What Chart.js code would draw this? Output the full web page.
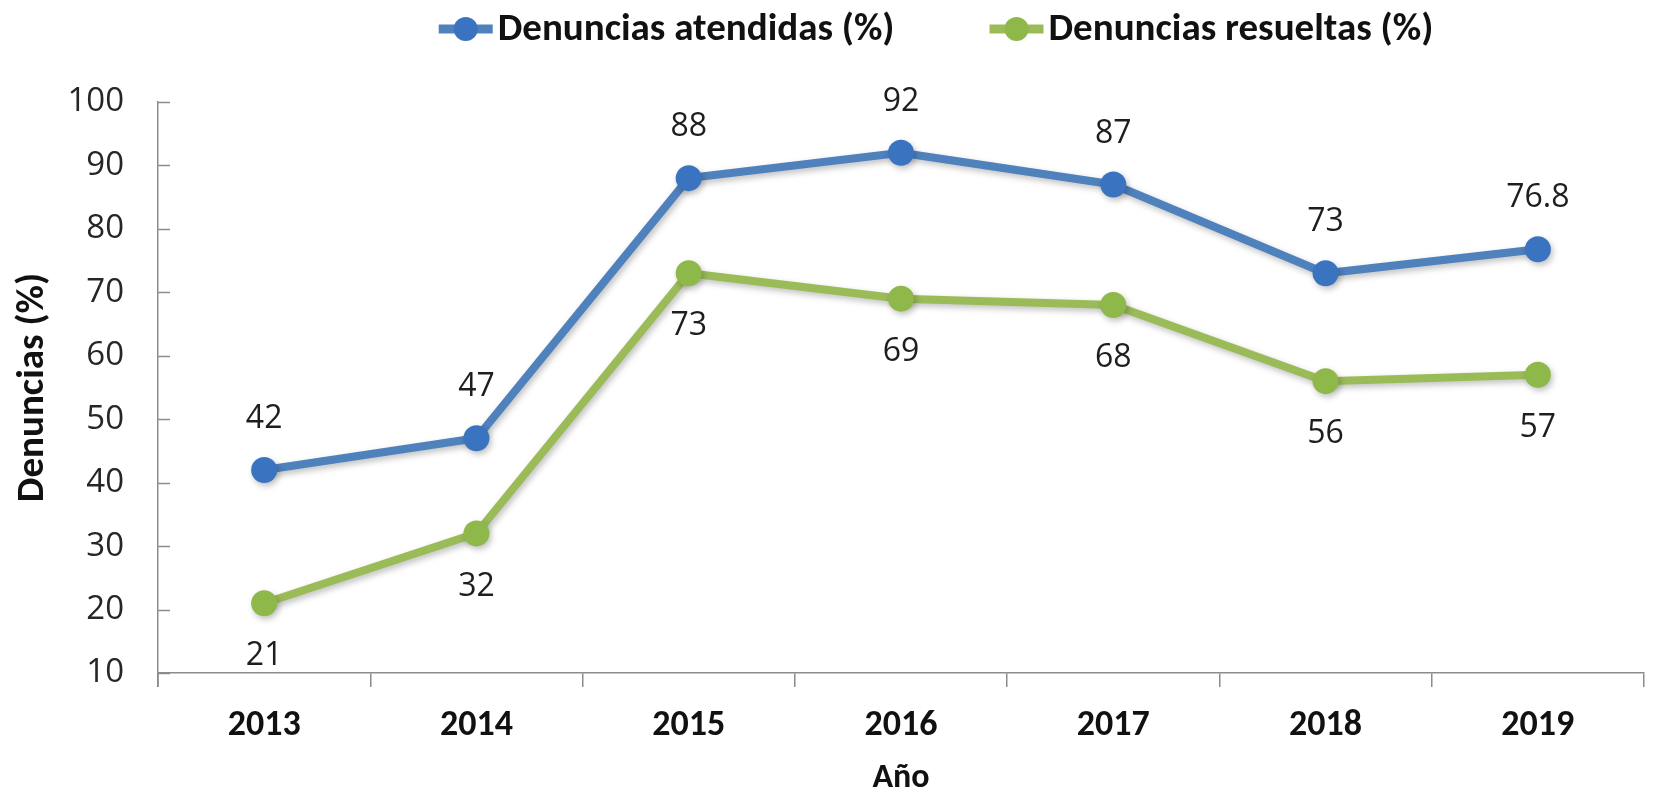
<!DOCTYPE html>
<html>
<head>
<meta charset="utf-8">
<script src="https://cdn.jsdelivr.net/npm/chart.js@4"></script>
<style>
  html, body { margin: 0; padding: 0; background: #fff; }
  #wrap { width: 1657px; height: 795px; }
</style>
</head>
<body>
<div id="wrap"><canvas id="chart" width="1657" height="795"></canvas></div>
<script>
// datos
var years = ["2013", "2014", "2015", "2016", "2017", "2018", "2019"];
var atendidas = [42, 47, 88, 92, 87, 73, 76.8];
var resueltas = [21, 32, 73, 69, 68, 56, 57];
var seriesNames = ["Denuncias atendidas (%)", "Denuncias resueltas (%)"];
var yTicks = [10, 20, 30, 40, 50, 60, 70, 80, 90, 100];

var lineColors = ["#4f81bd", "#9bbb59"];
var markerColors = ["#3a74c0", "#8fb84a"];

var narrow = "Carlito, Lato, sans-serif";
var round = "'Open Sans', 'DejaVu Sans', sans-serif";

// leyenda dibujada a mano (linea + circulo como en Excel)
var excelLegend = {
  id: "excelLegend",
  afterDraw: function(chart) {
    var ctx = chart.ctx;
    var cy = 29;
    var iconW = 54, textGap = 5, itemGap = 95;
    ctx.save();
    ctx.font = "bold 39px " + narrow;
    ctx.textBaseline = "middle";
    var widths = seriesNames.map(function(t) { return ctx.measureText(t).width; });
    var total = 0;
    widths.forEach(function(w, i) { total += iconW + textGap + w + (i > 0 ? itemGap : 0); });
    var x = 936 - total / 2;
    seriesNames.forEach(function(t, i) {
      ctx.strokeStyle = lineColors[i];
      ctx.lineWidth = 9;
      ctx.beginPath();
      ctx.moveTo(x, cy);
      ctx.lineTo(x + iconW, cy);
      ctx.stroke();
      ctx.fillStyle = markerColors[i];
      ctx.beginPath();
      ctx.arc(x + iconW / 2, cy, 12, 0, Math.PI * 2);
      ctx.fill();
      ctx.fillStyle = "#111";
      ctx.textAlign = "left";
      ctx.fillText(t, x + iconW + textGap, cy + 1);
      x += iconW + textGap + widths[i] + itemGap;
    });
    ctx.restore();
  }
};

// sombra suave bajo las lineas
var softShadow = {
  id: "softShadow",
  beforeDatasetDraw: function(chart) {
    var ctx = chart.ctx;
    ctx.save();
    ctx.shadowColor = "rgba(0,0,0,0.25)";
    ctx.shadowBlur = 6;
    ctx.shadowOffsetX = 2;
    ctx.shadowOffsetY = 3;
  },
  afterDatasetDraw: function(chart) {
    chart.ctx.restore();
  }
};

// etiquetas de datos (arriba para atendidas, abajo para resueltas)
var valueLabels = {
  id: "valueLabels",
  afterDatasetsDraw: function(chart) {
    var ctx = chart.ctx;
    ctx.save();
    ctx.font = "32px " + round;
    ctx.fillStyle = "#1e1e1e";
    ctx.textAlign = "center";
    ctx.textBaseline = "middle";
    chart.data.datasets.forEach(function(ds, i) {
      var meta = chart.getDatasetMeta(i);
      meta.data.forEach(function(pt, j) {
        var dy = i === 0 ? -51 : 53;
        ctx.fillText(String(ds.data[j]), pt.x, pt.y + dy);
      });
    });
    ctx.restore();
  }
};

// marcas interiores del eje y
var innerTicks = {
  id: "innerTicks",
  beforeDatasetsDraw: function(chart) {
    var y = chart.scales.y;
    var ctx = chart.ctx;
    ctx.save();
    ctx.strokeStyle = "#8c8c8c";
    ctx.lineWidth = 1.5;
    yTicks.forEach(function(v) {
      var py = Math.round(y.getPixelForValue(v)) + 0.5;
      ctx.beginPath();
      ctx.moveTo(y.right, py);
      ctx.lineTo(y.right + 12, py);
      ctx.stroke();
    });
    ctx.beginPath();
    ctx.moveTo(y.right, y.bottom);
    ctx.lineTo(y.right, y.bottom + 14);
    ctx.stroke();
    ctx.restore();
  }
};

new Chart(document.getElementById("chart"), {
  type: "line",
  data: {
    labels: years,
    datasets: [
      {
        label: seriesNames[0],
        data: atendidas,
        borderColor: lineColors[0],
        backgroundColor: markerColors[0],
        pointBackgroundColor: markerColors[0],
        pointBorderColor: markerColors[0],
        borderWidth: 8,
        pointRadius: 13,
        pointBorderWidth: 0,
        tension: 0
      },
      {
        label: seriesNames[1],
        data: resueltas,
        borderColor: lineColors[1],
        backgroundColor: markerColors[1],
        pointBackgroundColor: markerColors[1],
        pointBorderColor: markerColors[1],
        borderWidth: 8,
        pointRadius: 13,
        pointBorderWidth: 0,
        tension: 0
      }
    ]
  },
  options: {
    responsive: false,
    animation: false,
    layout: { padding: { top: 102, right: 0, bottom: 0, left: 0 } },
    plugins: {
      tooltip: { enabled: false },
      legend: { display: false }
    },
    scales: {
      x: {
        offset: true,
        border: { display: true, color: "#8c8c8c", width: 1.5 },
        grid: { offset: true, drawOnChartArea: false, drawTicks: true, tickLength: 14, color: "#8c8c8c", lineWidth: 1.5 },
        ticks: { color: "#111", padding: 17, font: { family: narrow, size: 36, weight: "bold" } },
        title: { display: true, text: "Año", color: "#111", padding: { top: 0, bottom: 0 }, font: { family: narrow, size: 34, weight: "bold", lineHeight: 1 } },
        afterFit: function(s) { s.height = 122; }
      },
      y: {
        min: 10,
        max: 100,
        border: { display: true, color: "#8c8c8c", width: 1.5 },
        grid: { drawOnChartArea: false, drawTicks: false },
        ticks: {
          stepSize: 10,
          padding: 34,
          color: "#262626",
          font: { family: round, size: 33 }
        },
        title: { display: true, text: "Denuncias (%)", color: "#111", padding: { top: 14, bottom: 0 }, font: { family: narrow, size: 39, weight: "bold", lineHeight: 1 } },
        afterFit: function(s) { s.width = 158; }
      }
    }
  },
  plugins: [softShadow, valueLabels, innerTicks, excelLegend]
});
</script>
</body>
</html>
